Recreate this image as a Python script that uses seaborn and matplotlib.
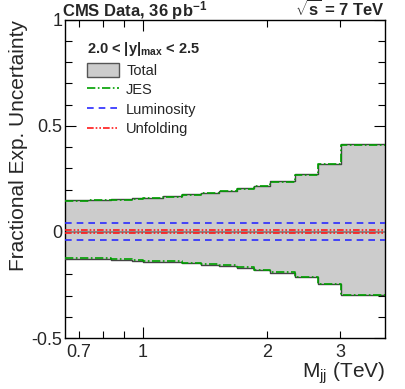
import matplotlib
matplotlib.use("Agg")
import matplotlib.pyplot as plt
import seaborn as sns
from matplotlib.patches import Patch
from matplotlib.lines import Line2D
from matplotlib.ticker import FixedLocator, FixedFormatter

# bin edges in TeV (dijet mass)
mass_edges = [0.649, 0.740, 0.838, 0.944, 1.000, 1.118, 1.246, 1.383, 1.530,
              1.687, 1.856, 2.037, 2.332, 2.659, 3.019, 3.854]

total_up = [0.150, 0.153, 0.156, 0.158, 0.162, 0.168, 0.178, 0.186, 0.195,
            0.205, 0.219, 0.240, 0.272, 0.321, 0.414]
total_down = [-0.126, -0.129, -0.134, -0.137, -0.140, -0.142, -0.148, -0.156,
              -0.162, -0.170, -0.181, -0.193, -0.214, -0.247, -0.297]
jes_up = [0.146, 0.149, 0.152, 0.154, 0.158, 0.164, 0.174, 0.183, 0.192,
          0.202, 0.216, 0.237, 0.270, 0.319, 0.412]
jes_down = [-0.121, -0.124, -0.129, -0.132, -0.135, -0.138, -0.144, -0.152,
            -0.158, -0.166, -0.178, -0.190, -0.211, -0.245, -0.295]
lumi_up = [0.04] * 15
lumi_down = [-0.04] * 15
unf_up = [0.009] * 15
unf_down = [-0.006] * 15

sns.set_theme(style="ticks")
plt.rcParams["font.family"] = ["Liberation Sans", "DejaVu Sans"]
plt.rcParams["mathtext.fontset"] = "custom"
plt.rcParams["mathtext.rm"] = "Liberation Sans"
plt.rcParams["mathtext.it"] = "Liberation Sans:italic"
plt.rcParams["mathtext.bf"] = "Liberation Sans:bold"


def ext(vals):
    # repeat last value so steps-post closes the last bin
    return list(vals) + [vals[-1]]


fig = plt.figure(figsize=(4.06, 3.89), dpi=100)
ax = fig.add_axes([0.160, 0.131, 0.788, 0.818])

ax.fill_between(mass_edges, ext(total_down), ext(total_up), step="post",
                color="#cccccc", lw=0, zorder=1)
ax.axhline(0, color="#888888", lw=1.5, zorder=2)

for vals in (total_up, total_down):
    sns.lineplot(x=mass_edges, y=ext(vals), ax=ax, drawstyle="steps-post",
                 color="#444444", lw=1.0, sort=False, zorder=3)
for vals in (jes_up, jes_down):
    sns.lineplot(x=mass_edges, y=ext(vals), ax=ax, drawstyle="steps-post",
                 color="#00a000", lw=1.2, linestyle=(0, (5, 1.5, 1, 1.5)),
                 sort=False, zorder=4)
for vals in (lumi_up, lumi_down):
    sns.lineplot(x=mass_edges, y=ext(vals), ax=ax, drawstyle="steps-post",
                 color="#2a2aff", lw=1.2, linestyle=(0, (4, 3)),
                 sort=False, zorder=4)
for vals in (unf_up, unf_down):
    sns.lineplot(x=mass_edges, y=ext(vals), ax=ax, drawstyle="steps-post",
                 color="#ff1a1a", lw=1.2,
                 linestyle=(0, (4, 1.2, 1, 1.2, 1, 1.2)),
                 sort=False, zorder=5)

ax.set_xscale("log")
ax.set_xlim(mass_edges[0], mass_edges[-1])
ax.set_ylim(-0.5, 1.0)

ax.xaxis.set_major_locator(FixedLocator([1.0]))
ax.xaxis.set_major_formatter(FixedFormatter(["1"]))
ax.xaxis.set_minor_locator(FixedLocator([0.7, 0.8, 0.9, 2.0, 3.0]))
ax.xaxis.set_minor_formatter(FixedFormatter(["0.7", "", "", "2", "3"]))

ax.set_yticks([-0.5, 0, 0.5, 1.0])
ax.set_yticklabels(["-0.5", "0", "0.5", "1"])
ax.yaxis.set_minor_locator(FixedLocator([i / 10 for i in range(-5, 11)]))

ax.tick_params(which="both", direction="in", top=True, right=True,
               labelsize=13, color="black", width=0.8)
ax.tick_params(which="major", length=8)
ax.tick_params(which="minor", length=5)
ax.tick_params(axis="x", which="both", pad=4)
ax.tick_params(axis="y", which="both", pad=2)

for sp in ax.spines.values():
    sp.set_linewidth(1.0)
    sp.set_color("black")

ax.set_xlabel(r"M$_{\mathrm{jj}}$ (TeV)", fontsize=15, loc="right")
ax.xaxis.set_label_coords(1.0, -0.072)
ax.set_ylabel("Fractional Exp. Uncertainty", fontsize=15, loc="top")
ax.yaxis.set_label_coords(-0.115, 1.0)

fig.text(62 / 406, 1 - 16 / 389, r"CMS Data, 36 pb$^{\mathbf{-1}}$",
         fontsize=12, fontweight="bold", ha="left", va="baseline")
fig.text(385 / 406, 1 - 16 / 389, r"$\sqrt{\mathbf{s}}$ = 7 TeV",
         fontsize=12, fontweight="bold", ha="right", va="baseline")

handles = [
    Patch(facecolor="#cccccc", edgecolor="#555555", lw=1.0),
    Line2D([], [], color="#00a000", lw=1.2, linestyle=(0, (5, 1.5, 1, 1.5))),
    Line2D([], [], color="#2a2aff", lw=1.2, linestyle=(0, (4, 3))),
    Line2D([], [], color="#ff1a1a", lw=1.2,
           linestyle=(0, (4, 1.2, 1, 1.2, 1, 1.2))),
]
labels = ["Total", "JES", "Luminosity", "Unfolding"]
leg = ax.legend(handles, labels, loc="upper left",
                bbox_to_anchor=(0.05, 0.955), frameon=False, fontsize=10.5,
                title=r"2.0 < |y|$_{\mathbf{max}}$ < 2.5",
                title_fontproperties={"weight": "bold", "size": 10.5},
                alignment="left", handlelength=2.2, handleheight=1.1,
                handletextpad=0.5, labelspacing=0.32, borderaxespad=0)

fig.savefig("out.png", dpi=100)
